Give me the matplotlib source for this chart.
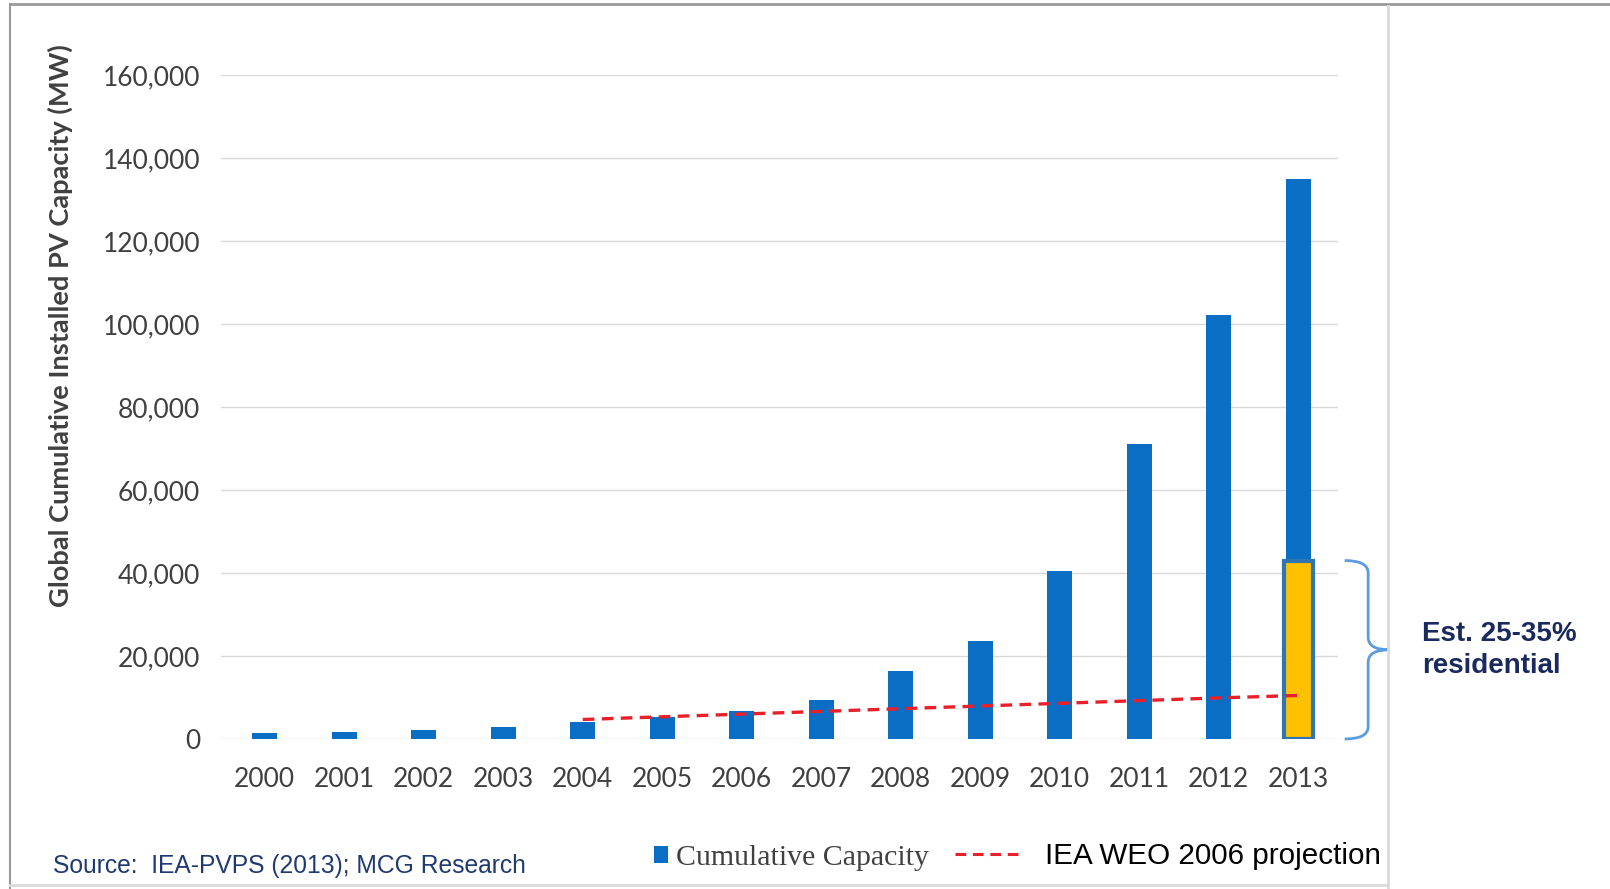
import matplotlib
matplotlib.use("Agg")
import matplotlib.pyplot as plt
from matplotlib.lines import Line2D
from matplotlib.patches import PathPatch, Patch
from matplotlib.path import Path
import matplotlib.transforms as mtransforms
import numpy as np

years = ["2000", "2001", "2002", "2003", "2004", "2005", "2006",
         "2007", "2008", "2009", "2010", "2011", "2012", "2013"]
capacity = [1450, 1750, 2250, 2800, 4000, 5400, 6800,
            9400, 16300, 23500, 40500, 71200, 102100, 135000]
proj_years = ["2004", "2005", "2006", "2007", "2008", "2009", "2010",
              "2011", "2012", "2013"]
projection = [4700, 5350, 6000, 6650, 7300, 7950, 8600, 9250, 9900, 10500]
residential_2013 = 43000
yticks = [0, 20000, 40000, 60000, 80000, 100000, 120000, 140000, 160000]

W, H = 1610, 889
fig = plt.figure(figsize=(W / 100, H / 100), dpi=100)
fig.patch.set_facecolor("white")

L, R, T, B = 221, 1338, 75, 739
ax = fig.add_axes([L / W, 1 - B / H, (R - L) / W, (B - T) / H])

BLUE = "#0A6EC4"
RED = "#E8202A"
DASH = (0, (3.5, 2.2))

x = np.arange(len(years))
ax.bar(x, capacity, width=0.31, color=BLUE, zorder=2)
ax.bar([years.index("2013")], [residential_2013], width=0.36,
       color="#FFC000", edgecolor="#2E75B6", linewidth=3, zorder=3)
px = [years.index(y) for y in proj_years]
ax.plot(px, projection, color=RED, lw=2.4, ls=DASH, zorder=4)

ax.set_xlim(-0.55, 13.5)
ax.set_ylim(0, 160000)
ax.set_yticks(yticks)
ax.set_yticklabels([f"{v:,}" for v in yticks])
ax.set_xticks(x)
ax.set_xticklabels(years)
ax.grid(axis="y", color="#D9D9D9", lw=1, zorder=0)
for s in ax.spines.values():
    s.set_visible(False)
ax.tick_params(axis="both", length=0, labelcolor="#404040", labelsize=19)
ax.tick_params(axis="y", pad=15)
ax.tick_params(axis="x", pad=20)
for lab in ax.get_xticklabels() + ax.get_yticklabels():
    lab.set_fontfamily("Lato")

fig.text(60 / W, 1 - 326 / H, "Global Cumulative Installed PV Capacity (MW)",
         rotation=90, ha="center", va="center", fontsize=19.6,
         fontweight="bold", color="#404040", family="Lato")

# curly brace spanning the residential share
trans = mtransforms.blended_transform_factory(ax.transAxes, ax.transData)
x0, x1, x2 = 1.006, 1.027, 1.046
top, bot = residential_2013, 0
mid = (top + bot) / 2
d = 3000
verts = [(x0, top), (x1, top), (x1, top - d),
         (x1, mid + d), (x1, mid), (x2, mid),
         (x1, mid), (x1, mid - d),
         (x1, bot + d), (x1, bot), (x0, bot)]
codes = [Path.MOVETO, Path.CURVE3, Path.CURVE3,
         Path.LINETO, Path.CURVE3, Path.CURVE3,
         Path.CURVE3, Path.CURVE3,
         Path.LINETO, Path.CURVE3, Path.CURVE3]
brace = PathPatch(Path(verts, codes), transform=trans, fill=False,
                  edgecolor="#5B9BE0", lw=2, clip_on=False)
ax.add_patch(brace)

fig.text(1422 / W, 1 - 650 / H, "Est. 25-35%\nresidential", ha="left",
         va="center", fontsize=20, fontweight="bold", color="#1A2A5E",
         family="Liberation Sans", linespacing=1.3)

# legend (two parts, to get distinct handle sizes and fonts)
leg1 = fig.legend([Patch(facecolor=BLUE, edgecolor="none")],
                  ["Cumulative Capacity"],
                  loc="center left", bbox_to_anchor=(654 / W, 1 - 858 / H),
                  frameon=False, handlelength=0.48, handleheight=0.48,
                  handletextpad=0.25, borderpad=0, borderaxespad=0,
                  prop={"family": "Liberation Serif", "size": 21.5})
leg1.get_texts()[0].set_color("#404040")
leg2 = fig.legend([Line2D([0], [0], color=RED, lw=2.2, ls=DASH)],
                  ["IEA WEO 2006 projection"],
                  loc="center left", bbox_to_anchor=(955 / W, 1 - 856 / H),
                  frameon=False, handlelength=2.3, handletextpad=0.75,
                  borderpad=0, borderaxespad=0,
                  prop={"family": "Liberation Sans", "size": 21.3})
leg2.get_texts()[0].set_color("#000000")

fig.text(53 / W, 1 - 866 / H, "Source:  IEA-PVPS (2013); MCG Research",
         ha="left", va="center", fontsize=17.7, color="#1F3A73",
         family="Liberation Sans")

# frame lines
fig.add_artist(Line2D([10 / W, 1], [1 - 4 / H, 1 - 4 / H], color="#9A9A9A", lw=2))
fig.add_artist(Line2D([10 / W, 10 / W], [1 - 4 / H, 0], color="#9A9A9A", lw=1.5))
fig.add_artist(Line2D([1388 / W, 1388 / W], [1 - 6 / H, 0], color="#DADADA", lw=2))
fig.add_artist(Line2D([10 / W, 1388 / W], [1 - 885 / H, 1 - 885 / H], color="#DADADA", lw=2))

fig.savefig("out.png", dpi=100)
